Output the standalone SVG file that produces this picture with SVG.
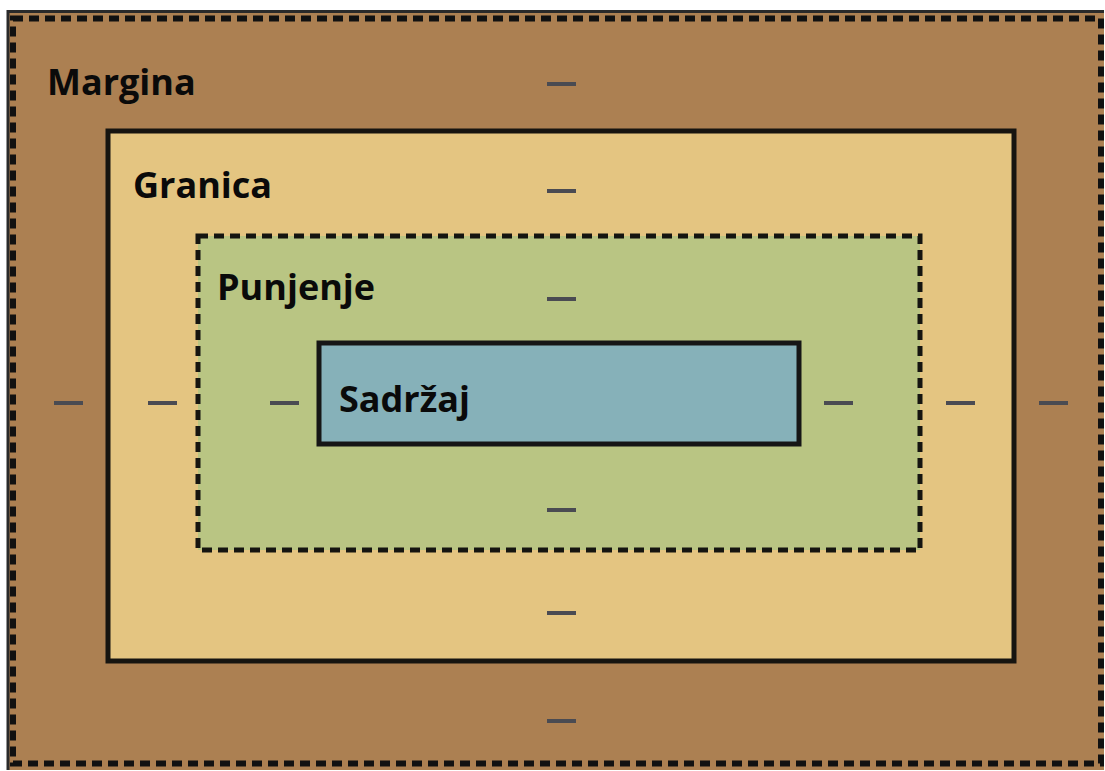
<svg xmlns="http://www.w3.org/2000/svg" width="1105" height="771" viewBox="0 0 1105 771">
<style>
.lbl{font-family:"Open Sans","Liberation Sans",sans-serif;font-weight:700;font-size:36px;fill:#0a0a0a}
.tick{fill:#4a4b52}
</style>
<rect width="1105" height="771" fill="#ffffff"/>
<g id="margina">
<rect x="7" y="10" width="1097" height="760" fill="#ac8052"/>
<path d="M7 11.5H1104M8 10V770" stroke="#2a2a2a" stroke-width="3" fill="none"/>
<rect x="13" y="18.5" width="1088" height="745" fill="none" stroke="#111" stroke-width="6" stroke-dasharray="10 6"/>
<text class="lbl" x="47" y="95">Margina</text>
</g>
<g id="granica">
<rect x="108" y="131" width="906" height="530" fill="#e4c581" stroke="#161410" stroke-width="5"/>
<text class="lbl" x="133" y="198">Granica</text>
</g>
<g id="punjenje">
<rect x="198" y="236" width="722" height="314" fill="#b9c583" stroke="#151510" stroke-width="5" stroke-dasharray="10 6"/>
<text class="lbl" x="217" y="300">Punjenje</text>
</g>
<g id="sadrzaj">
<rect x="319" y="343" width="480" height="101" fill="#86b1b9" stroke="#161616" stroke-width="5"/>
<text class="lbl" x="339" y="412">Sadržaj</text>
</g>
<g id="ticks">
<rect class="tick" x="547" y="82" width="29" height="4"/>
<rect class="tick" x="547" y="189" width="29" height="4"/>
<rect class="tick" x="547" y="297" width="29" height="4"/>
<rect class="tick" x="547" y="508" width="29" height="4"/>
<rect class="tick" x="547" y="611" width="29" height="4"/>
<rect class="tick" x="547" y="719" width="29" height="4"/>
<rect class="tick" x="54" y="401" width="29" height="4"/>
<rect class="tick" x="148" y="401" width="29" height="4"/>
<rect class="tick" x="270" y="401" width="29" height="4"/>
<rect class="tick" x="824" y="401" width="29" height="4"/>
<rect class="tick" x="946" y="401" width="29" height="4"/>
<rect class="tick" x="1039" y="401" width="29" height="4"/>
</g>
</svg>
